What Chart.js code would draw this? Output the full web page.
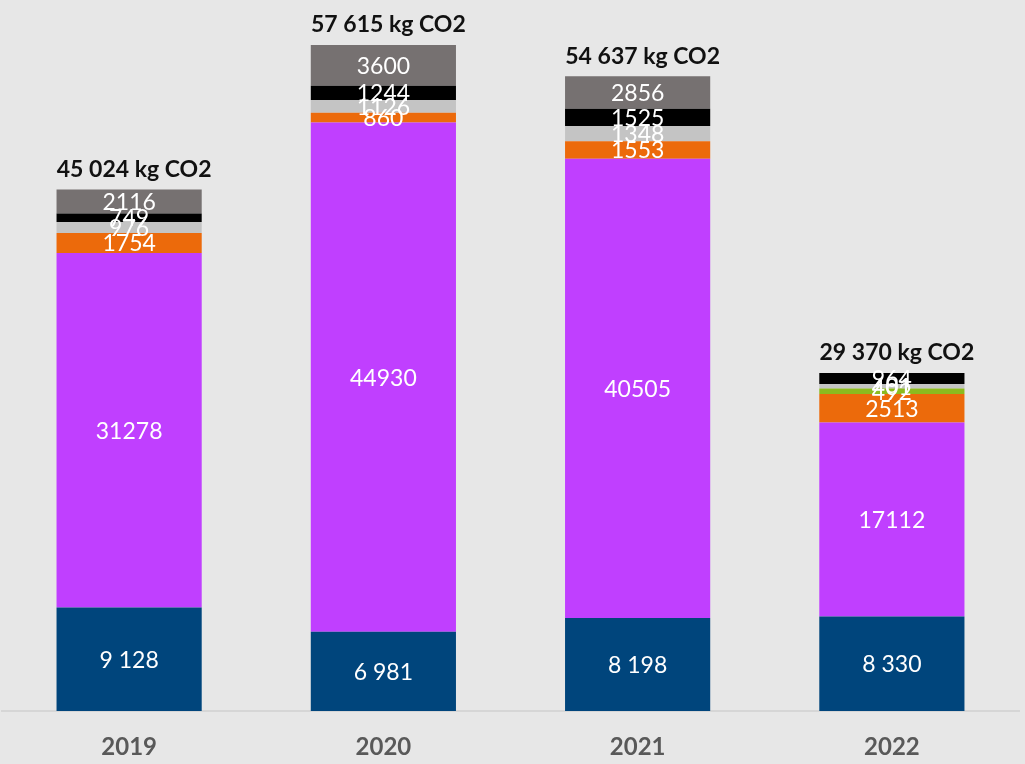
<!DOCTYPE html>
<html>
<head>
<meta charset="utf-8">
<script src="https://cdn.jsdelivr.net/npm/chart.js@4/dist/chart.umd.min.js"></script>
<style>
html,body{margin:0;padding:0;background:#e7e7e7;}
#wrap{width:1025px;height:764px;}
</style>
</head>
<body>
<div id="wrap"><canvas id="c"></canvas></div>
<script>
// years and stacked emissions per source (kg CO2), bottom to top
let years=["2019","2020","2021","2022"];
let navy=[9128,6981,8198,8330];
let violet=[31278,44930,40505,17112];
let orange=[1754,860,1553,2513];
let green=[0,0,0,492];
let silver=[976,1126,1348,401];
let black=[749,1244,1525,964];
let grey=[2116,3600,2856,0];
let totals=["45 024 kg CO2","57 615 kg CO2","54 637 kg CO2","29 370 kg CO2"];

let FONT="Lato, 'Open Sans', sans-serif";

function ds(data,color,spaced){
return {data:data,backgroundColor:color,borderWidth:0,spaced:spaced};
}

function fmt(v,spaced){
let s=String(v);
if(spaced) s=s.replace(/\B(?=(\d{3})+(?!\d))/g," ");
return s;
}

/* labels inside segments + total above each bar */
let labels={
id:"labels",
afterDatasetsDraw(chart){
let ctx=chart.ctx;
ctx.save();
ctx.textAlign="center";
ctx.textBaseline="middle";
ctx.fillStyle="#ffffff";
ctx.font="23px "+FONT;
chart.data.datasets.forEach((d,i)=>{
let meta=chart.getDatasetMeta(i);
meta.data.forEach((bar,j)=>{
let v=d.data[j];
if(!v) return;
let y=(bar.y+bar.base)/2;
ctx.fillText(fmt(v,d.spaced),bar.x,y+1);
});
});
ctx.fillStyle="#111111";
ctx.font="bold 23px "+FONT;
let last=chart.getDatasetMeta(chart.data.datasets.length-1);
last.data.forEach((bar,j)=>{
ctx.fillText(totals[j],bar.x+5,bar.y-20);
});
ctx.restore();
}
};

new Chart(document.getElementById("c"),{
type:"bar",
data:{
labels:years,
datasets:[
ds(navy,"#00457c",true),
ds(violet,"#c03fff"),
ds(orange,"#ec6a0b"),
ds(green,"#8cbb1e"),
ds(silver,"#c4c4c4"),
ds(black,"#000000"),
ds(grey,"#767171")
]
},
options:{
responsive:true,
maintainAspectRatio:false,
animation:false,
layout:{padding:{left:2,right:6,top:0,bottom:0}},
plugins:{legend:{display:false},tooltip:{enabled:false}},
datasets:{bar:{categoryPercentage:0.571,barPercentage:1}},
scales:{
x:{
stacked:true,
grid:{display:false,drawTicks:false},
border:{display:true,color:"#d6d6d6",width:2},
ticks:{color:"#595959",font:{family:FONT,size:24,weight:"bold"},padding:22},
afterFit(s){s.height=53;}
},
y:{
stacked:true,
display:false,
min:0,
max:62710
}
}
},
plugins:[labels]
});
</script>
</body>
</html>
